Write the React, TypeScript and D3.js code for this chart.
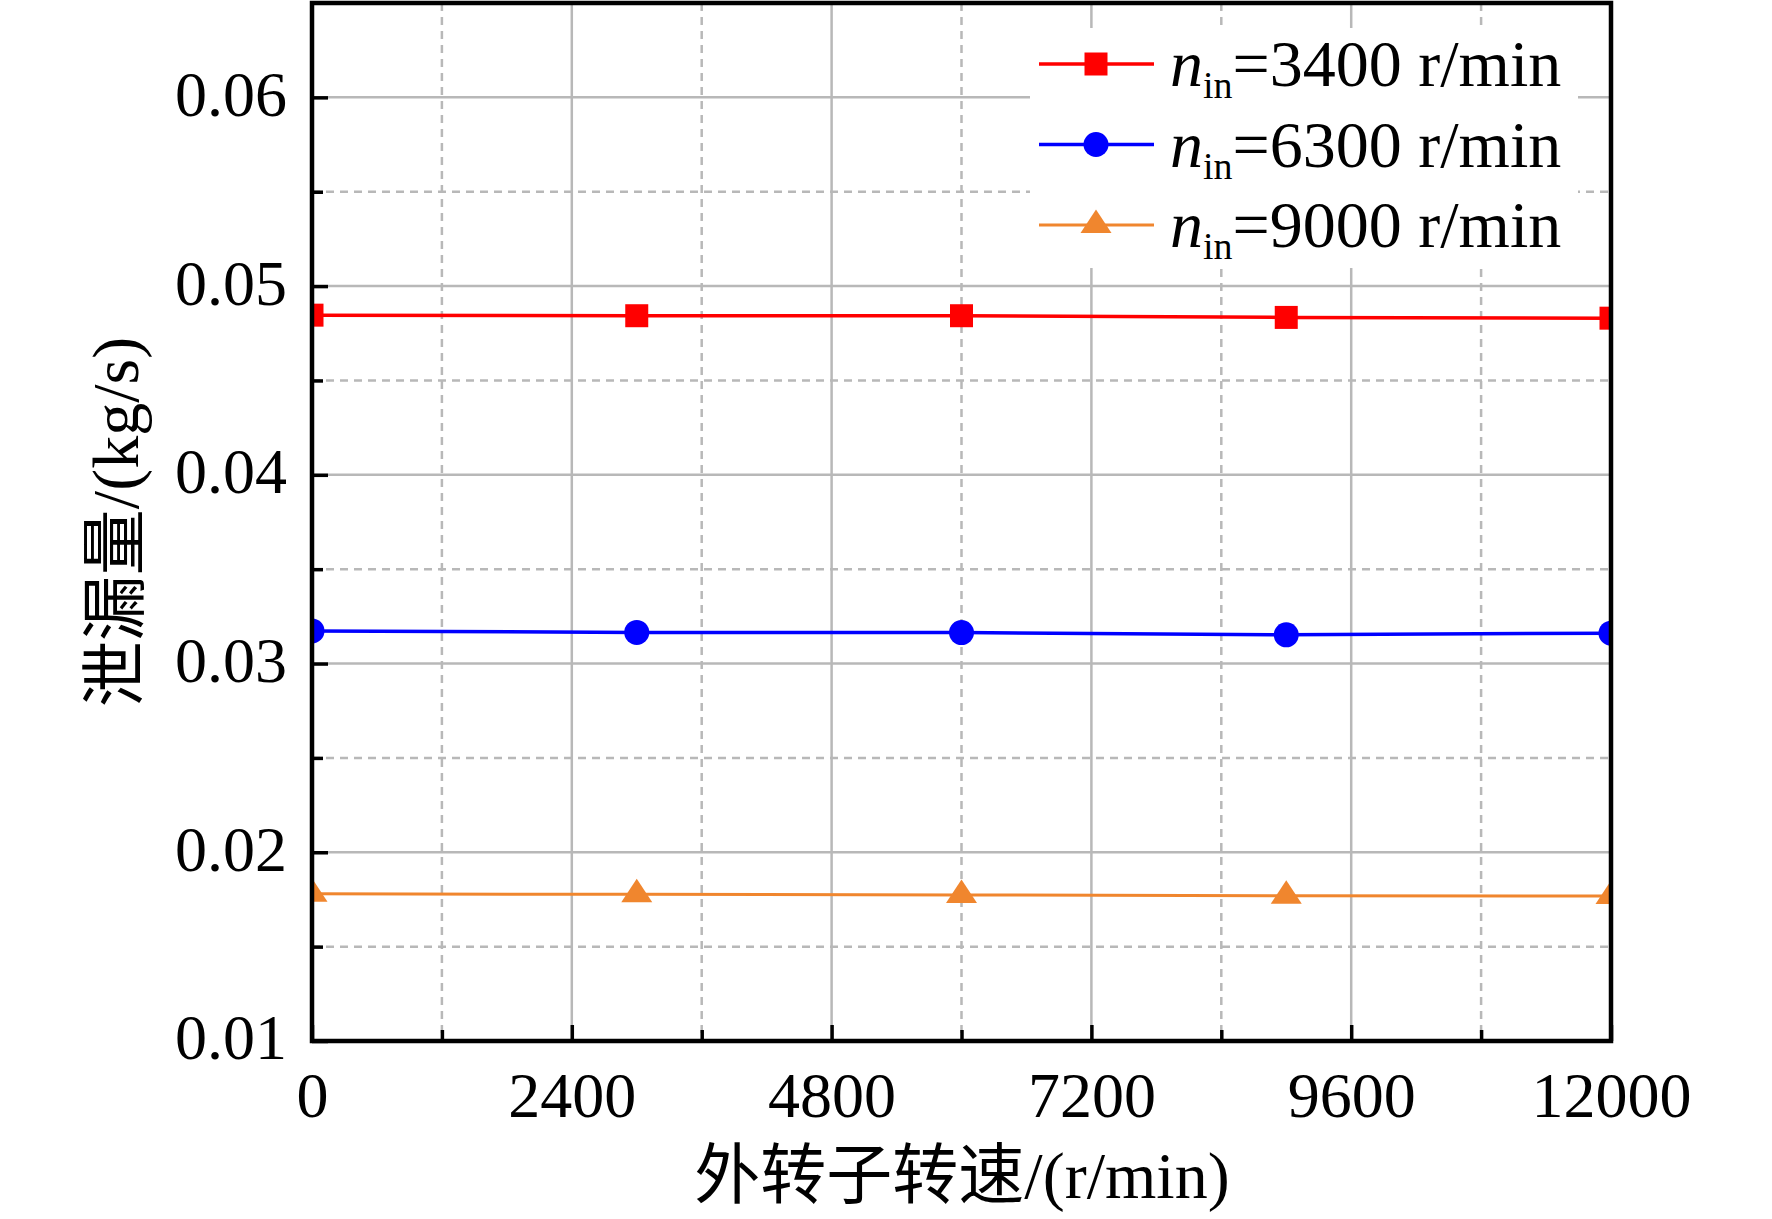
import React, { useEffect, useRef } from 'react';
import * as d3 from 'd3';

// outer rotor speed (r/min) and leakage (kg/s) per inner rotor speed
const speeds = [0, 3000, 6000, 9000, 12000];
const leak3400 = [0.04846, 0.04843, 0.04843, 0.04834, 0.0483];
const leak6300 = [0.03173, 0.03165, 0.03164, 0.03152, 0.03161];
const leak9000 = [0.0178, 0.01777, 0.01774, 0.01769, 0.01768];
const seriesNames = ['3400', '6300', '9000'];

const xMajorTicks = [0, 2400, 4800, 7200, 9600, 12000];
const xMinorTicks = [1200, 3600, 6000, 8400, 10800];
const yMajorTicks = [0.01, 0.02, 0.03, 0.04, 0.05, 0.06];
const yMinorTicks = [0.015, 0.025, 0.035, 0.045, 0.055];

const W = 1772;
const H = 1219;
const FONT = '"Liberation Serif", "Times New Roman", "Noto Sans CJK SC", serif';

type Marker = 'square' | 'circle' | 'triangle';

export default function App() {
  const svgRef = useRef<SVGSVGElement | null>(null);

  useEffect(() => {
    if (!svgRef.current) return;
    const svg = d3.select(svgRef.current);
    svg.selectAll('*').remove();

    const left = 312;
    const right = 1611;
    const top = 3;
    const bottom = 1041;

    const x = d3.scaleLinear().domain([0, 12000]).range([left, right]);
    const y = d3.scaleLinear().domain([0.01, 0.065]).range([bottom, top]);

    const series = [
      { name: seriesNames[0], values: leak3400, color: '#ff0000', width: 3.5, marker: 'square' as Marker },
      { name: seriesNames[1], values: leak6300, color: '#0000ff', width: 3.5, marker: 'circle' as Marker },
      { name: seriesNames[2], values: leak9000, color: '#f0862e', width: 3, marker: 'triangle' as Marker },
    ];

    const drawMarker = (g: any, kind: Marker, cx: number, cy: number, color: string) => {
      if (kind === 'triangle') {
        g.append('path')
          .attr('d', `M${cx},${cy - 15.5}L${cx + 15.5},${cy + 8}L${cx - 15.5},${cy + 8}Z`)
          .attr('fill', color);
      } else {
        const sym = d3.symbol()
          .type(kind === 'square' ? d3.symbolSquare : d3.symbolCircle)
          .size(kind === 'square' ? 23 * 23 : Math.PI * 12.5 * 12.5);
        g.append('path')
          .attr('transform', `translate(${cx},${cy})`)
          .attr('d', sym() as string)
          .attr('fill', color);
      }
    };

    // grid
    const grid = svg.append('g').attr('stroke', '#b8b8b8').attr('stroke-width', 2.5);
    xMajorTicks.forEach((t) => {
      grid.append('line').attr('x1', x(t)).attr('x2', x(t)).attr('y1', top).attr('y2', bottom);
    });
    xMinorTicks.forEach((t) => {
      grid.append('line').attr('x1', x(t)).attr('x2', x(t)).attr('y1', top).attr('y2', bottom)
        .attr('stroke-dasharray', '8,6');
    });
    yMajorTicks.forEach((t) => {
      grid.append('line').attr('x1', left).attr('x2', right).attr('y1', y(t)).attr('y2', y(t));
    });
    yMinorTicks.forEach((t) => {
      grid.append('line').attr('x1', left).attr('x2', right).attr('y1', y(t)).attr('y2', y(t))
        .attr('stroke-dasharray', '8,6');
    });

    // legend background hides the grid behind it
    svg.append('rect')
      .attr('x', 1030).attr('y', 28).attr('width', 548).attr('height', 240)
      .attr('fill', '#ffffff');

    // data, clipped to the plot area
    svg.append('clipPath').attr('id', 'plot-clip')
      .append('rect')
      .attr('x', left).attr('y', top).attr('width', right - left).attr('height', bottom - top);

    const plot = svg.append('g').attr('clip-path', 'url(#plot-clip)');
    const line = d3.line<number>()
      .x((_, i) => x(speeds[i]))
      .y((d) => y(d));

    series.forEach((s) => {
      plot.append('path')
        .attr('d', line(s.values) as string)
        .attr('fill', 'none')
        .attr('stroke', s.color)
        .attr('stroke-width', s.width);
      s.values.forEach((v, i) => drawMarker(plot, s.marker, x(speeds[i]), y(v), s.color));
    });

    // axes with inward ticks
    const axisStyle = (g: any) => {
      g.select('.domain').remove();
      g.selectAll('.tick line').attr('stroke', '#000').attr('stroke-width', 3.5);
      g.selectAll('.tick text')
        .attr('fill', '#000')
        .attr('font-family', FONT)
        .attr('font-size', 64);
    };

    svg.append('g')
      .attr('transform', `translate(0,${bottom})`)
      .call(d3.axisBottom(x).tickValues(xMajorTicks).tickSize(-16).tickPadding(31).tickFormat(d3.format('d')))
      .call(axisStyle);
    svg.append('g')
      .attr('transform', `translate(0,${bottom})`)
      .call(d3.axisBottom(x).tickValues(xMinorTicks).tickSize(-11).tickFormat(() => ''))
      .call(axisStyle);

    svg.append('g')
      .attr('transform', `translate(${left},0)`)
      .call(d3.axisLeft(y).tickValues(yMajorTicks).tickSize(-16).tickPadding(25).tickFormat(d3.format('.2f')))
      .call(axisStyle)
      .call((g: any) => g.selectAll('.tick text').attr('dy', '0.28em'));
    svg.append('g')
      .attr('transform', `translate(${left},0)`)
      .call(d3.axisLeft(y).tickValues(yMinorTicks).tickSize(-11).tickFormat(() => ''))
      .call(axisStyle);

    // frame
    svg.append('rect')
      .attr('x', left).attr('y', top).attr('width', right - left).attr('height', bottom - top)
      .attr('fill', 'none')
      .attr('stroke', '#000')
      .attr('stroke-width', 4.5);

    // axis titles
    svg.append('text')
      .attr('x', 962).attr('y', 1198)
      .attr('text-anchor', 'middle')
      .attr('font-family', FONT)
      .attr('font-size', 66)
      .text('外转子转速/(r/min)');

    svg.append('text')
      .attr('transform', 'translate(138,522) rotate(-90)')
      .attr('text-anchor', 'middle')
      .attr('font-family', FONT)
      .attr('font-size', 66)
      .text('泄漏量/(kg/s)');

    // legend
    const legend = svg.append('g');
    series.forEach((s, i) => {
      const ry = 64 + i * 80.5;
      legend.append('line')
        .attr('x1', 1039).attr('x2', 1154).attr('y1', ry).attr('y2', ry)
        .attr('stroke', s.color).attr('stroke-width', s.width);
      drawMarker(legend, s.marker, 1096, ry, s.color);

      const t = legend.append('text')
        .attr('x', 1170).attr('y', ry + 22)
        .attr('font-family', FONT)
        .attr('font-size', 66)
        .attr('fill', '#000');
      t.append('tspan').attr('font-style', 'italic').text('n');
      t.append('tspan').attr('font-size', 38).attr('dy', 12).text('in');
      t.append('tspan').attr('dy', -12).text(`=${s.name} r/min`);
    });
  }, []);

  return (
    <svg
      ref={svgRef}
      width={W}
      height={H}
      viewBox={`0 0 ${W} ${H}`}
      style={{ position: 'absolute', left: 0, top: 0, background: '#fff' }}
    />
  );
}
